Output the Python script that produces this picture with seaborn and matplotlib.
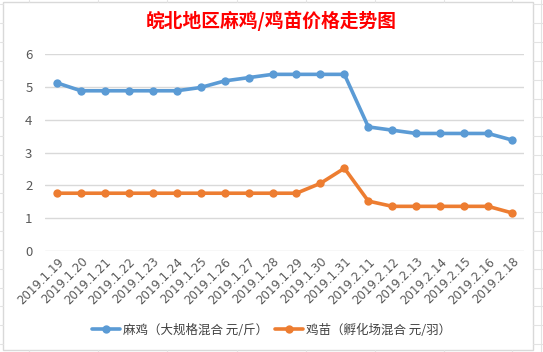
import matplotlib
matplotlib.use("Agg")
import matplotlib.pyplot as plt
from matplotlib.lines import Line2D
from matplotlib.patches import Rectangle
import pandas as pd
import seaborn as sns

# data
dates = ["2019.1.19", "2019.1.20", "2019.1.21", "2019.1.22", "2019.1.23", "2019.1.24",
         "2019.1.25", "2019.1.26", "2019.1.27", "2019.1.28", "2019.1.29", "2019.1.30",
         "2019.1.31", "2019.2.11", "2019.2.12", "2019.2.13", "2019.2.14", "2019.2.15",
         "2019.2.16", "2019.2.18"]
maji = [5.12, 4.88, 4.88, 4.88, 4.88, 4.88, 4.98, 5.18, 5.28, 5.38, 5.38, 5.38,
        5.38, 3.78, 3.68, 3.58, 3.58, 3.58, 3.58, 3.38]
jimiao = [1.76, 1.76, 1.76, 1.76, 1.76, 1.76, 1.76, 1.76, 1.76, 1.76, 1.76, 2.06,
          2.52, 1.52, 1.36, 1.36, 1.36, 1.36, 1.36, 1.16]
series = ["麻鸡（大规格混合 元/斤）", "鸡苗（孵化场混合 元/羽）"]

df = pd.concat([
    pd.DataFrame({"date": dates, "price": maji, "series": series[0]}),
    pd.DataFrame({"date": dates, "price": jimiao, "series": series[1]}),
])

sns.set_style("white")
plt.rcParams['font.family'] = ['Noto Sans CJK SC', 'DejaVu Sans']

W, H = 543, 352
fig = plt.figure(figsize=(W / 100, H / 100), dpi=100)
ax = fig.add_axes([45 / W, 1 - 251 / H, (524 - 45) / W, (251 - 54) / H])

sns.lineplot(data=df, x="date", y="price", hue="series", sort=False,
             palette=["#5B9BD5", "#ED7D31"], marker="o", markersize=6,
             markeredgewidth=0, linewidth=2.6, ax=ax, legend=False)

ax.set_xlim(-0.5, len(dates) - 0.5)
ax.set_ylim(0, 6)
ax.set_yticks(range(7))
ax.grid(axis="y", color="#D9D9D9", linewidth=1)
ax.set_axisbelow(True)
for s in ax.spines.values():
    s.set_visible(False)
ax.set_xlabel("")
ax.set_ylabel("")
ax.tick_params(axis="y", length=0, pad=9, labelsize=9.5, labelcolor="#595959")
ax.tick_params(axis="x", length=0, pad=3, labelsize=8.5, labelcolor="#595959")
plt.setp(ax.get_xticklabels(), rotation=45, ha="right", rotation_mode="anchor",
         family="DejaVu Sans")

fig.text(0.5, 1 - 21 / H, "皖北地区麻鸡/鸡苗价格走势图", ha="center", va="center",
         fontsize=13.5, fontweight="bold", color="red")

handles = [Line2D([], [], color=c, lw=2.6, marker="o", markersize=6, markeredgewidth=0)
           for c in ["#5B9BD5", "#ED7D31"]]
fig.legend(handles, series, loc="center", bbox_to_anchor=(0.5, 1 - 330 / H), ncol=2,
           frameon=False, fontsize=9, labelcolor="#404040", handlelength=2.2,
           columnspacing=0.6, handletextpad=0.25)

# chart frame and surrounding sheet cells
fig.add_artist(Rectangle((3 / W, 1 - 350 / H), 530 / W, 348 / H, transform=fig.transFigure,
                         fill=False, edgecolor="#D9D9D9", linewidth=1))
fig.add_artist(Line2D([541 / W, 541 / W], [0, 1], transform=fig.transFigure,
                      color="#E3E3E3", lw=0.8))
for r in range(19):
    yy = 1 - (4 + 18.9 * r) / H
    fig.add_artist(Line2D([0, 3 / W], [yy, yy], transform=fig.transFigure, color="#E3E3E3", lw=0.8))
    fig.add_artist(Line2D([533 / W, 1], [yy, yy], transform=fig.transFigure, color="#E3E3E3", lw=0.8))
for cx in [29, 98, 167, 237, 306, 375, 444, 512]:
    fig.add_artist(Line2D([cx / W, cx / W], [1 - 2 / H, 1], transform=fig.transFigure, color="#E3E3E3", lw=0.8))
    fig.add_artist(Line2D([cx / W, cx / W], [0, 1 - 350 / H], transform=fig.transFigure, color="#E3E3E3", lw=0.8))

fig.savefig("out.png", dpi=100)
